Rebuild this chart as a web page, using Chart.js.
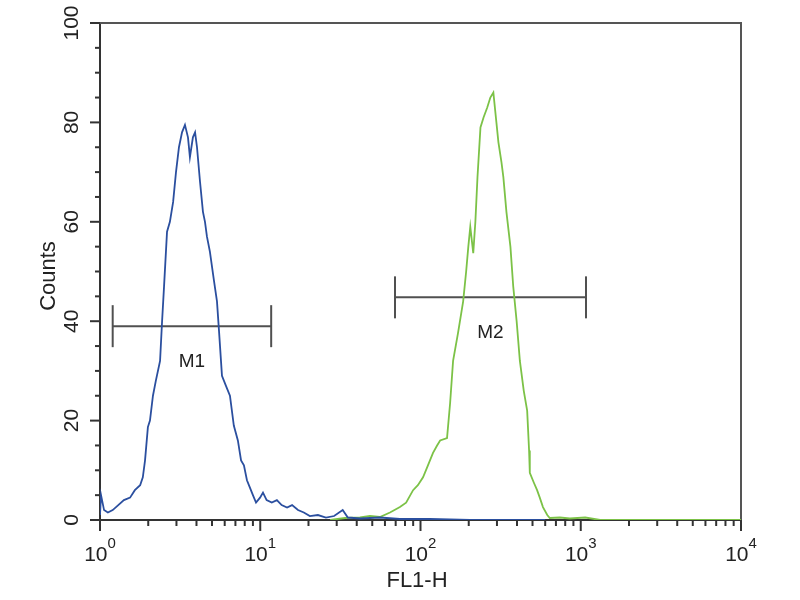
<!DOCTYPE html>
<html>
<head>
<meta charset="utf-8">
<script src="https://cdn.jsdelivr.net/npm/chart.js@4"></script>
<style>
  html, body { margin: 0; padding: 0; background: #fff; }
  canvas { display: block; }
</style>
</head>
<body>
<canvas id="facsChart" width="800" height="600"></canvas>
<script>
// blue histogram (FL1-H value, counts)
const blueX = [1.0, 1.015, 1.06, 1.12, 1.2, 1.3, 1.41, 1.54, 1.65, 1.78, 1.85, 1.91, 1.99, 2.05, 2.14, 2.23, 2.37, 2.44, 2.51, 2.62,
  2.73, 2.86, 2.98, 3.11, 3.25, 3.39, 3.54, 3.64, 3.8, 3.92, 4.03, 4.21, 4.39, 4.52, 4.65, 4.85, 5.15, 5.37, 5.53, 5.77,
  6.11, 6.47, 6.84, 7.25, 7.59, 7.91, 8.26, 8.62, 9.0, 9.41, 9.97, 10.4, 10.96, 11.8, 12.7, 13.6, 14.7, 15.8, 17.2, 18.7,
  20.4, 22.9, 25.7, 28.9, 32.7, 35.2, 41.9, 55.8, 74.4, 114, 203, 600];
const blueY = [1, 5, 2, 1.5, 2, 3, 4, 4.5, 6, 7, 8.6, 12, 18.7, 20, 25, 28, 32, 40, 47, 58,
  60, 64, 70, 75, 78, 79.5, 77, 73, 77, 78, 75, 68, 62, 60, 57, 54, 48, 44, 38, 29,
  27, 25, 19, 16, 12, 11, 8, 6.5, 5, 3.5, 4.5, 5.5, 4, 3.5, 4, 3, 2.5, 3, 2, 1.5,
  0.8, 1, 0.5, 0.8, 2, 0.5, 0.3, 0.5, 0.2, 0.2, 0, 0];

// green histogram
const greenX = [27.3, 33.8, 41.9, 48.4, 55.8, 64.5, 74.4, 81.3, 89.9, 96.3, 103.7, 111.3, 119.7, 126.9, 132.6, 146.4, 153, 159.7, 171.4, 184.6,
  192.7, 198.8, 204.5, 213.4, 220, 226.8, 236.7, 247.4, 260.9, 272.8, 284.9, 297.6, 306.4, 320, 328.9, 343.7, 364, 379, 398, 417,
  441, 463, 476, 481, 510, 534, 555, 581, 618, 641, 741, 855, 1066, 1321, 10000];
const greenY = [0, 0.4, 0.5, 0.8, 0.6, 1.5, 2.6, 3.5, 6, 7, 8.6, 11, 13.5, 15, 16, 16.5, 23.5, 32, 37.6, 44,
  50, 55, 59, 53.7, 60, 69, 79, 81, 83, 85, 86, 80, 76, 72, 69, 62, 55, 47, 40, 32,
  26, 22, 14, 9.5, 7.5, 6, 4.5, 2.6, 1, 0.4, 0.5, 0.3, 0.5, 0, 0];

// gates
const gateNames = ['M1', 'M2'];
const gateFrom = [1.2, 69.3];
const gateTo = [11.7, 1078];
const gateLevel = [39, 44.8];

// axis ticks
const xDecades = [1, 10, 100, 1000, 10000];
const xExponents = ['0', '1', '2', '3', '4'];
const yLabels = [0, 20, 40, 60, 80, 100];

const textColor = '#222';
const axisColor = '#333';
const fontFamily = '"Liberation Sans", Arial, sans-serif';

function toPoints(xs, ys) {
  return xs.map((x, i) => ({ x: x, y: ys[i] }));
}

const gateDatasets = gateNames.map((name, i) => ({
  label: name,
  data: [{ x: gateFrom[i], y: gateLevel[i] }, { x: gateTo[i], y: gateLevel[i] }],
  showLine: true,
  borderColor: '#505050',
  borderWidth: 2,
  pointStyle: 'line',
  rotation: 90,
  pointRadius: 21,
  pointBorderWidth: 2,
  pointBorderColor: '#505050'
}));

// top/right frame
const framePlugin = {
  id: 'frame',
  beforeDatasetsDraw(chart) {
    const { ctx, chartArea: a } = chart;
    ctx.save();
    ctx.strokeStyle = '#555';
    ctx.lineWidth = 2;
    ctx.beginPath();
    ctx.moveTo(a.left, a.top);
    ctx.lineTo(a.right, a.top);
    ctx.lineTo(a.right, a.bottom);
    ctx.stroke();
    ctx.restore();
  }
};

// ticks, tick labels, titles, gate labels
const axisPlugin = {
  id: 'facsAxes',
  afterDraw(chart) {
    const { ctx, chartArea: a } = chart;
    const xs = chart.scales.x;
    const ys = chart.scales.y;
    ctx.save();
    ctx.strokeStyle = axisColor;
    ctx.fillStyle = textColor;
    ctx.lineWidth = 2;

    // x ticks
    xDecades.forEach((d, i) => {
      const steps = i < xDecades.length - 1 ? 9 : 1;
      for (let k = 1; k <= steps; k++) {
        const px = xs.getPixelForValue(k * d);
        ctx.beginPath();
        ctx.moveTo(px, a.bottom);
        ctx.lineTo(px, a.bottom + (k === 1 ? 11 : 6));
        ctx.stroke();
      }
    });

    // y ticks
    for (let v = 0; v <= 100; v += 5) {
      const py = ys.getPixelForValue(v);
      ctx.beginPath();
      ctx.moveTo(a.left, py);
      ctx.lineTo(a.left - (v % 20 === 0 ? 10 : 5), py);
      ctx.stroke();
    }

    // x labels 10^n
    xDecades.forEach((d, i) => {
      const px = xs.getPixelForValue(d);
      ctx.font = '21px ' + fontFamily;
      const w1 = ctx.measureText('10').width;
      ctx.font = '15px ' + fontFamily;
      const w2 = ctx.measureText(xExponents[i]).width;
      const start = px - (w1 + w2) / 2;
      ctx.textAlign = 'left';
      ctx.textBaseline = 'alphabetic';
      ctx.font = '21px ' + fontFamily;
      ctx.fillText('10', start, 561);
      ctx.font = '15px ' + fontFamily;
      ctx.fillText(xExponents[i], start + w1, 548);
    });

    // y labels, rotated
    ctx.font = '21px ' + fontFamily;
    ctx.textAlign = 'center';
    ctx.textBaseline = 'alphabetic';
    yLabels.forEach(v => {
      const py = ys.getPixelForValue(v);
      ctx.save();
      ctx.translate(78, py);
      ctx.rotate(-Math.PI / 2);
      ctx.fillText(String(v), 0, 0);
      ctx.restore();
    });

    // axis titles
    ctx.font = '22px ' + fontFamily;
    ctx.fillText('FL1-H', 417, 587);
    ctx.save();
    ctx.translate(55, 276);
    ctx.rotate(-Math.PI / 2);
    ctx.fillText('Counts', 0, 0);
    ctx.restore();

    // gate labels
    ctx.font = '19px ' + fontFamily;
    gateNames.forEach((name, i) => {
      const px = xs.getPixelForValue(Math.sqrt(gateFrom[i] * gateTo[i]));
      const py = ys.getPixelForValue(gateLevel[i]);
      ctx.fillText(name, px, py + 41);
    });

    ctx.restore();
  }
};

const ctx = document.getElementById('facsChart').getContext('2d');
new Chart(ctx, {
  type: 'scatter',
  data: {
    datasets: [
      {
        label: 'blue',
        data: toPoints(blueX, blueY),
        showLine: true,
        borderColor: '#2b4f9f',
        borderWidth: 1.8,
        pointRadius: 0
      },
      {
        label: 'green',
        data: toPoints(greenX, greenY),
        showLine: true,
        borderColor: '#7cc247',
        borderWidth: 1.8,
        pointRadius: 0
      },
      ...gateDatasets
    ]
  },
  options: {
    responsive: false,
    devicePixelRatio: 1,
    animation: false,
    layout: { padding: { left: 0, top: 23, right: 59, bottom: 0 } },
    plugins: {
      legend: { display: false },
      tooltip: { enabled: false }
    },
    scales: {
      x: {
        type: 'logarithmic',
        min: 1,
        max: 10000,
        grid: { display: false },
        border: { display: true, color: axisColor, width: 2 },
        ticks: { display: false },
        afterFit: (scale) => { scale.height = 80; }
      },
      y: {
        min: 0,
        max: 100,
        grid: { display: false },
        border: { display: true, color: axisColor, width: 2 },
        ticks: { display: false },
        afterFit: (scale) => { scale.width = 100; }
      }
    }
  },
  plugins: [framePlugin, axisPlugin]
});
</script>
</body>
</html>
